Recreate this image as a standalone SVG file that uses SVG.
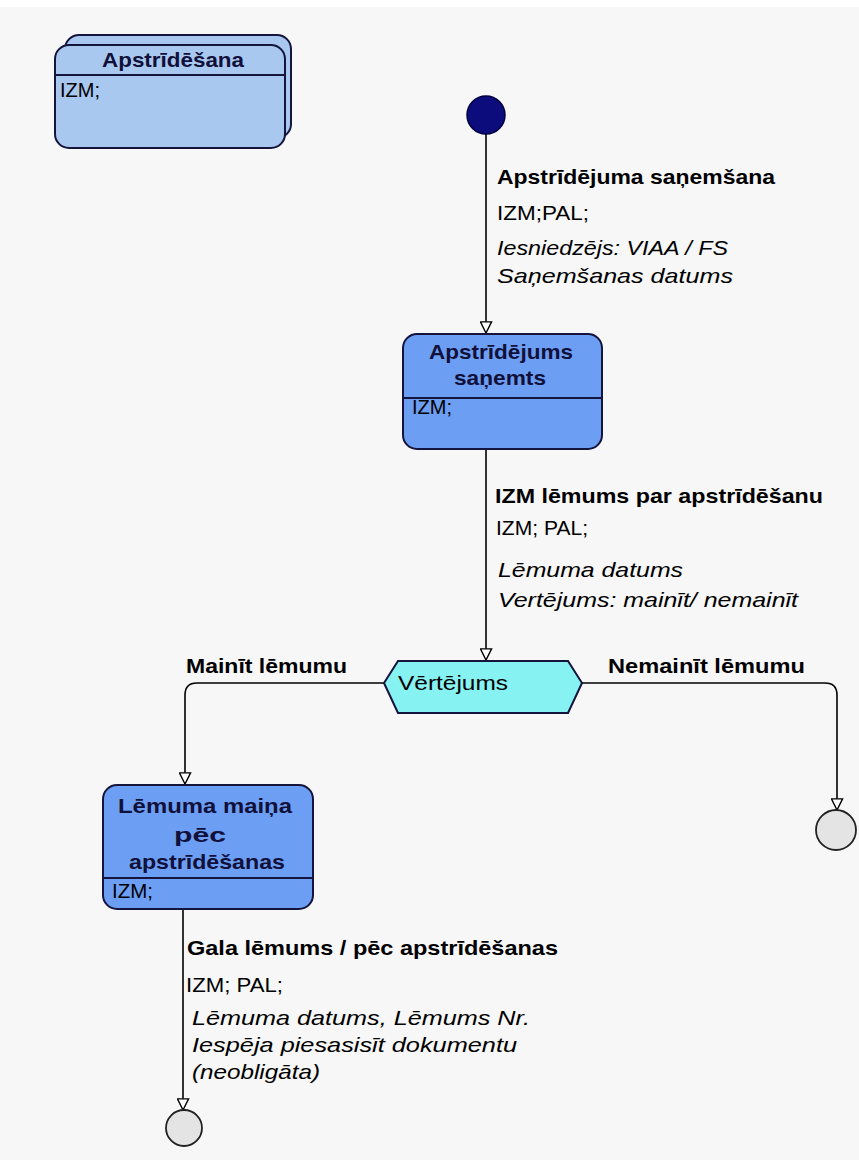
<svg xmlns="http://www.w3.org/2000/svg" width="859" height="1160" viewBox="0 0 859 1160">
<style>
text{font-family:"Liberation Sans",Arial,sans-serif;font-size:21px;fill:#000}
.b{font-weight:bold}
.i{font-style:italic}
.t{font-weight:bold;fill:#10103a}
.box{stroke:#14143c;stroke-width:2}
.sep{stroke:#14143c;stroke-width:2}
.c{fill:none;stroke:#000;stroke-width:1.6}
.end{fill:#e4e4e4;stroke:#222;stroke-width:1.8}
</style>
<defs>
<marker id="ar" markerUnits="userSpaceOnUse" markerWidth="13" markerHeight="13" refX="13" refY="7" orient="auto" viewBox="0 0 14 14">
<path d="M1,1 L1,13 L13,7 Z" fill="#fff" stroke="#000" stroke-width="1.5"/>
</marker>
</defs>
<rect width="859" height="1160" fill="#fff"/>
<rect x="0" y="7" width="859" height="1153" fill="#f7f7f7"/>

<g id="connectors">
<path class="c" d="M486,134 V333" marker-end="url(#ar)"/>
<path class="c" d="M486,449 V660" marker-end="url(#ar)"/>
<path class="c" d="M384,683 H197 Q185,683 185,695 V784" marker-end="url(#ar)"/>
<path class="c" d="M582,683 H825 Q837,683 837,695 V810" marker-end="url(#ar)"/>
<path class="c" d="M183,909 V1110" marker-end="url(#ar)"/>
</g>

<g id="n_apstridesana">
<rect class="box" x="65" y="35" width="226" height="103" rx="14" fill="#a8c8f0"/>
<rect class="box" x="55" y="45" width="230" height="103" rx="14" fill="#a8c8f0"/>
<line class="sep" x1="56" y1="75" x2="284" y2="75"/>
<text class="t" x="102" y="67" textLength="142" lengthAdjust="spacingAndGlyphs">Apstrīdēšana</text>
<text x="60" y="97" textLength="40" lengthAdjust="spacingAndGlyphs" fill="#1a1a50">IZM;</text>
</g>

<g id="n_start">
<circle cx="486" cy="115" r="19" fill="#0c0c7c" stroke="#000040" stroke-width="1.5"/>
</g>

<g id="l_sanemsana">
<text class="b" x="497" y="184" textLength="278" lengthAdjust="spacingAndGlyphs">Apstrīdējuma saņemšana</text>
<text x="497" y="220" textLength="92" lengthAdjust="spacingAndGlyphs">IZM;PAL;</text>
<text class="i" x="497" y="255" textLength="231" lengthAdjust="spacingAndGlyphs">Iesniedzējs: VIAA / FS</text>
<text class="i" x="497" y="283" textLength="236" lengthAdjust="spacingAndGlyphs">Saņemšanas datums</text>
</g>

<g id="n_sanemts">
<rect class="box" x="403" y="334" width="199" height="115" rx="14" fill="#6c9ef4"/>
<line class="sep" x1="404" y1="398" x2="601" y2="398"/>
<text class="t" x="429" y="359" textLength="144" lengthAdjust="spacingAndGlyphs">Apstrīdējums</text>
<text class="t" x="454" y="385" textLength="92" lengthAdjust="spacingAndGlyphs">saņemts</text>
<text x="412" y="414" textLength="40" lengthAdjust="spacingAndGlyphs" fill="#1a1a50">IZM;</text>
</g>

<g id="l_lemums">
<text class="b" x="495" y="503" textLength="328" lengthAdjust="spacingAndGlyphs">IZM lēmums par apstrīdēšanu</text>
<text x="496" y="535" textLength="92" lengthAdjust="spacingAndGlyphs">IZM; PAL;</text>
<text class="i" x="498" y="577" textLength="185" lengthAdjust="spacingAndGlyphs">Lēmuma datums</text>
<text class="i" x="498" y="607" textLength="300" lengthAdjust="spacingAndGlyphs">Vertējums: mainīt/ nemainīt</text>
</g>

<g id="n_vertejums">
<polygon class="box" points="384,683 398,661 568,661 582,683 568,713 398,713" fill="#86f2f2" stroke-width="1.6"/>
<text x="398" y="690" textLength="110" lengthAdjust="spacingAndGlyphs" fill="#14143c">Vērtējums</text>
</g>

<g id="l_mainit">
<text class="b" x="186" y="673" textLength="161" lengthAdjust="spacingAndGlyphs">Mainīt lēmumu</text>
</g>
<g id="l_nemainit">
<text class="b" x="608" y="673" textLength="197" lengthAdjust="spacingAndGlyphs">Nemainīt lēmumu</text>
</g>

<g id="n_maina">
<rect class="box" x="103" y="785" width="210" height="124" rx="14" fill="#6c9ef4"/>
<line class="sep" x1="104" y1="878" x2="312" y2="878"/>
<text class="t" x="118" y="813" textLength="174" lengthAdjust="spacingAndGlyphs">Lēmuma maiņa</text>
<text class="t" x="174" y="842" textLength="52" lengthAdjust="spacingAndGlyphs">pēc</text>
<text class="t" x="129" y="869" textLength="156" lengthAdjust="spacingAndGlyphs">apstrīdēšanas</text>
<text x="112" y="898" textLength="41" lengthAdjust="spacingAndGlyphs" fill="#1a1a50">IZM;</text>
</g>

<g id="n_end_right">
<circle class="end" cx="836" cy="830" r="20"/>
</g>

<g id="l_gala">
<text class="b" x="187" y="955" textLength="371" lengthAdjust="spacingAndGlyphs">Gala lēmums / pēc apstrīdēšanas</text>
<text x="186" y="992" textLength="97" lengthAdjust="spacingAndGlyphs">IZM; PAL;</text>
<text class="i" x="192" y="1025" textLength="338" lengthAdjust="spacingAndGlyphs">Lēmuma datums, Lēmums Nr.</text>
<text class="i" x="192" y="1052" textLength="325" lengthAdjust="spacingAndGlyphs">Iespēja piesasisīt dokumentu</text>
<text class="i" x="192" y="1079" textLength="128" lengthAdjust="spacingAndGlyphs">(neobligāta)</text>
</g>

<g id="n_end_bottom">
<circle class="end" cx="184" cy="1128" r="18"/>
</g>
</svg>
